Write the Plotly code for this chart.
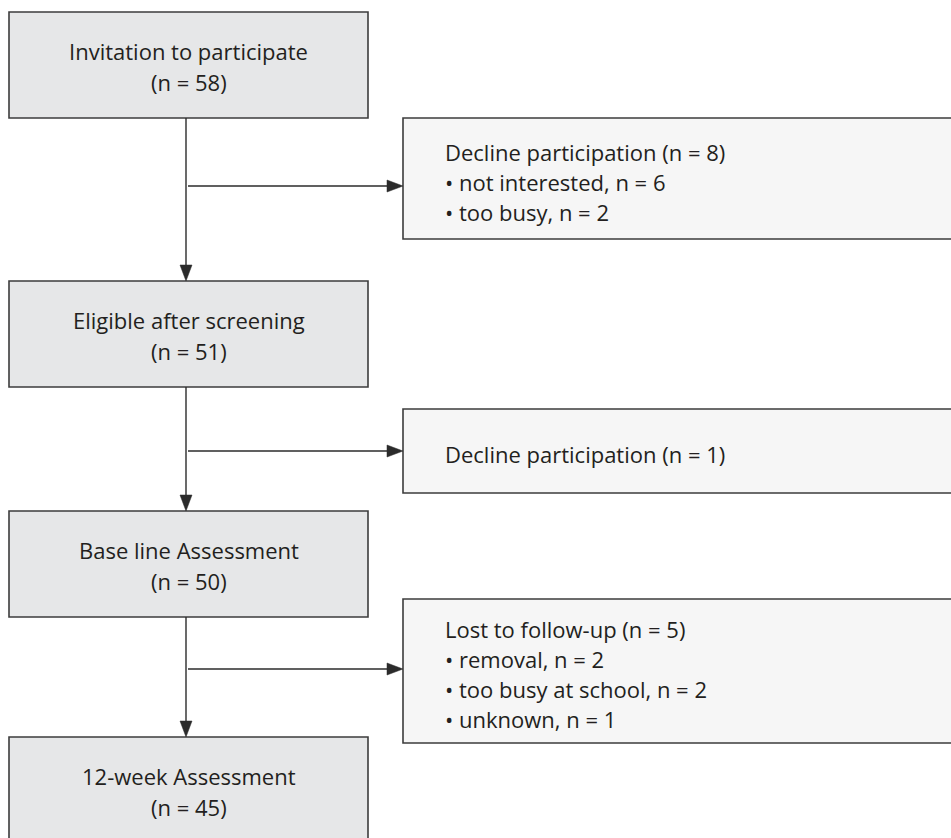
import plotly.graph_objects as go

# ---- data ----
main_steps = ["Invitation to participate", "Eligible after screening", "Base line Assessment", "12-week Assessment"]
main_counts = [58, 51, 50, 45]

exit_titles = ["Decline participation", "Decline participation", "Lost to follow-up"]
exit_counts = [8, 1, 5]
exit_reasons = [
    ["not interested", "too busy"],
    [],
    ["removal", "too busy at school", "unknown"],
]
exit_reason_counts = [
    [6, 2],
    [],
    [2, 2, 1],
]

# ---- layout constants ----
W, H = 951, 838
LX0, LX1 = 9, 368
LINE_X = 186
MAIN_TOPS = [12, 281, 511, 737]
MAIN_H = 106
RX0, RX1 = 403, 965
EXIT_BOXES = [(118, 239), (409, 493), (599, 743)]
ARROW_Y = [186, 451, 669]
TEXT_X = 443
LINE_SP = 30

FONT = dict(family="Open Sans, Noto Sans, sans-serif", size=22, color="#231f20")
MAIN_FILL = "#e6e7e8"
EXIT_FILL = "#f6f6f6"
BORDER = "#3c3c3c"
LINE_C = "#2b2b2b"

shapes = []
annotations = []

# main boxes
for i, (label, n) in enumerate(zip(main_steps, main_counts)):
    top = MAIN_TOPS[i]
    shapes.append(dict(type="rect", x0=LX0, x1=LX1, y0=top, y1=top + MAIN_H,
                       fillcolor=MAIN_FILL, line=dict(color=BORDER, width=1.6), layer="below"))
    cx = (LX0 + LX1) / 2
    annotations.append(dict(x=cx, y=top + 39, text=label, showarrow=False,
                            xanchor="center", yanchor="middle", font=FONT))
    annotations.append(dict(x=cx, y=top + 70, text=f"(n = {n})", showarrow=False,
                            xanchor="center", yanchor="middle", font=FONT))

# vertical arrows
AH_L, AH_W = 16, 6
for i in range(len(main_steps) - 1):
    y0 = MAIN_TOPS[i] + MAIN_H
    y1 = MAIN_TOPS[i + 1]
    shapes.append(dict(type="line", x0=LINE_X, x1=LINE_X, y0=y0, y1=y1 - AH_L + 2,
                       line=dict(color=LINE_C, width=1.4)))
    shapes.append(dict(type="path",
                       path=f"M{LINE_X - AH_W},{y1 - AH_L} L{LINE_X + AH_W},{y1 - AH_L} L{LINE_X},{y1} Z",
                       fillcolor=LINE_C, line=dict(color=LINE_C, width=0.5)))

# exit boxes & horizontal arrows
for i, (title, n) in enumerate(zip(exit_titles, exit_counts)):
    by0, by1 = EXIT_BOXES[i]
    shapes.append(dict(type="rect", x0=RX0, x1=RX1, y0=by0, y1=by1,
                       fillcolor=EXIT_FILL, line=dict(color=BORDER, width=1.6), layer="below"))
    ay = ARROW_Y[i]
    shapes.append(dict(type="line", x0=LINE_X + 2, x1=RX0 - AH_L + 2, y0=ay, y1=ay,
                       line=dict(color=LINE_C, width=1.4)))
    shapes.append(dict(type="path",
                       path=f"M{RX0 - AH_L},{ay - AH_W} L{RX0 - AH_L},{ay + AH_W} L{RX0},{ay} Z",
                       fillcolor=LINE_C, line=dict(color=LINE_C, width=0.5)))
    lines = [f"{title} (n = {n})"] + [f"• {r}, n = {c}" for r, c in zip(exit_reasons[i], exit_reason_counts[i])]
    cy = (by0 + by1) / 2 + 3
    start = cy - (len(lines) - 1) * LINE_SP / 2
    for k, t in enumerate(lines):
        annotations.append(dict(x=TEXT_X, y=start + k * LINE_SP, text=t, showarrow=False,
                                xanchor="left", yanchor="middle", font=FONT))

fig = go.Figure()
fig.update_layout(
    width=W, height=H,
    margin=dict(l=0, r=0, t=0, b=0),
    paper_bgcolor="white", plot_bgcolor="white",
    xaxis=dict(range=[0, W], visible=False, fixedrange=True),
    yaxis=dict(range=[H, 0], visible=False, fixedrange=True),
    shapes=shapes, annotations=annotations, showlegend=False,
)
fig.write_html("out.html", config=dict(displayModeBar=False),
               post_script="document.body.style.margin='0';document.body.style.overflow='hidden';")
